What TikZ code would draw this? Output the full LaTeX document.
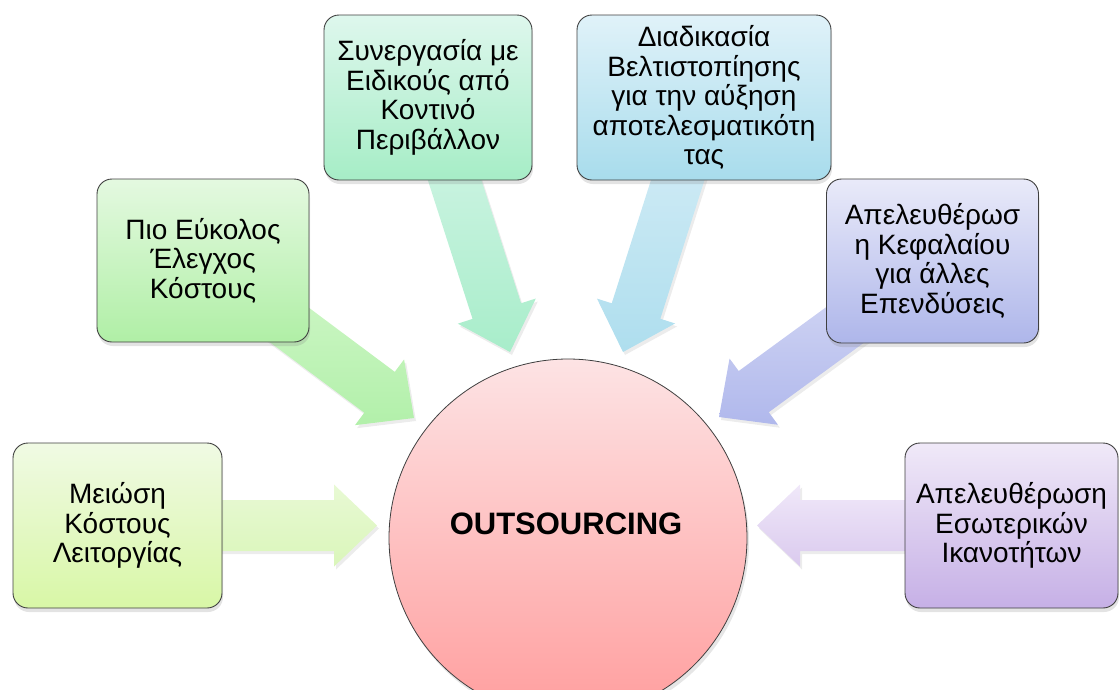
\documentclass[tikz,border=0pt]{standalone}
\usepackage{fontspec}
\setmainfont{Liberation Sans}
\usetikzlibrary{calc,shadows}
\pgfdeclarelayer{bg}
\pgfsetlayers{bg,main}
\definecolor{edge}{HTML}{3F3F3F}
\definecolor{b1t}{HTML}{F0FAE4}\definecolor{b1b}{HTML}{D8F7A6}
\definecolor{b2t}{HTML}{E4F9E0}\definecolor{b2b}{HTML}{B0EFA6}
\definecolor{b3t}{HTML}{DEF7ED}\definecolor{b3b}{HTML}{A6EDC6}
\definecolor{b4t}{HTML}{E0F2F9}\definecolor{b4b}{HTML}{A8DCEC}
\definecolor{b5t}{HTML}{E9EAF9}\definecolor{b5b}{HTML}{AEB6EA}
\definecolor{b6t}{HTML}{F0E9F8}\definecolor{b6b}{HTML}{C6B0E6}
\definecolor{a1t}{HTML}{E8F9D4}\definecolor{a1b}{HTML}{DAF6BA}
\definecolor{a2t}{HTML}{D6F8CE}\definecolor{a2b}{HTML}{B2F0AA}
\definecolor{a3t}{HTML}{D8F6EA}\definecolor{a3b}{HTML}{A8EDCA}
\definecolor{a4t}{HTML}{DAEFF7}\definecolor{a4b}{HTML}{AEDEEE}
\definecolor{a5t}{HTML}{DCDFF6}\definecolor{a5b}{HTML}{B0B8EC}
\definecolor{a6t}{HTML}{F0E8F9}\definecolor{a6b}{HTML}{DACAEE}
\definecolor{ct}{HTML}{FDE3E4}\definecolor{cb}{HTML}{FF9E9E}
\tikzset{
  box/.style={draw=edge, line width=0.9pt, rounded corners=15pt, align=center,
    inner sep=0pt, font=\fontsize{28}{29.5}\selectfont,
    drop shadow={shadow xshift=1pt, shadow yshift=-4pt, opacity=0.22}},
  blockarr/.style={draw=none,
    drop shadow={shadow xshift=2pt, shadow yshift=-3pt, opacity=0.15}},
}
\newcommand\blockarrow[5]{%
  \coordinate (#1h) at ($(#3)!43pt!(#2)$);
  \path[blockarr, top color=#4, bottom color=#5]
    ($(#2)!25.5pt!90:(#3)$) -- ($(#1h)!25.5pt!-90:(#2)$) -- ($(#1h)!41pt!-90:(#2)$)
    -- (#3) -- ($(#1h)!41pt!90:(#2)$) -- ($(#1h)!25.5pt!90:(#2)$)
    -- ($(#2)!25.5pt!-90:(#3)$) -- cycle;
}
\begin{document}
\begin{tikzpicture}[x=1pt,y=-1pt]
\useasboundingbox (0,0) rectangle (1119,689);
% boxes
\node[box, top color=b1t, bottom color=b1b, minimum width=209pt, minimum height=165pt] (b1) at (117.5,525.5)
  {Μειώση\\Κόστους\\Λειτοργίας};
\node[box, top color=b2t, bottom color=b2b, minimum width=212pt, minimum height=163pt] (b2) at (203,260.5)
  {Πιο Εύκολος\\Έλεγχος\\Κόστους};
\node[box, top color=b3t, bottom color=b3b, minimum width=208pt, minimum height=165pt] (b3) at (428,97.5)
  {Συνεργασία με\\Ειδικούς από\\Κοντινό\\Περιβάλλον};
\node[box, top color=b4t, bottom color=b4b, minimum width=254pt, minimum height=165pt] (b4) at (704,97.5)
  {Διαδικασία\\Βελτιστοπίησης\\για την αύξηση\\αποτελεσματικότη\\τας};
\node[box, top color=b5t, bottom color=b5b, minimum width=212pt, minimum height=164pt] (b5) at (932.5,261)
  {Απελευθέρωσ\\η Κεφαλαίου\\για άλλες\\Επενδύσεις};
\node[box, top color=b6t, bottom color=b6b, minimum width=213pt, minimum height=165pt] (b6) at (1011.5,525.5)
  {Απελευθέρωση\\Εσωτερικών\\Ικανοτήτων};
% centre
\node[circle, draw=edge, line width=0.8pt, minimum size=358pt, inner sep=0pt,
  top color=ct, bottom color=cb,
  drop shadow={shadow xshift=2pt, shadow yshift=-4pt, opacity=0.2}] (c) at (568,538) {};
\node[font=\bfseries\fontsize{31}{31}\selectfont] (ct) at (566,524) {OUTSOURCING};
% arrow tips
\coordinate (t1) at (377,525.5);
\coordinate (t2) at (414,418);
\coordinate (t3) at (510,352);
\coordinate (t4) at (623,352);
\coordinate (t5) at (719,417);
\coordinate (t6) at (757,525.5);
\begin{pgfonlayer}{bg}
\blockarrow{a1}{b1.center}{t1}{a1t}{a1b}
\blockarrow{a2}{b2.center}{t2}{a2t}{a2b}
\blockarrow{a3}{b3.center}{t3}{a3t}{a3b}
\blockarrow{a4}{b4.center}{t4}{a4t}{a4b}
\blockarrow{a5}{b5.center}{t5}{a5t}{a5b}
\blockarrow{a6}{b6.center}{t6}{a6t}{a6b}
\end{pgfonlayer}
\end{tikzpicture}
\end{document}
